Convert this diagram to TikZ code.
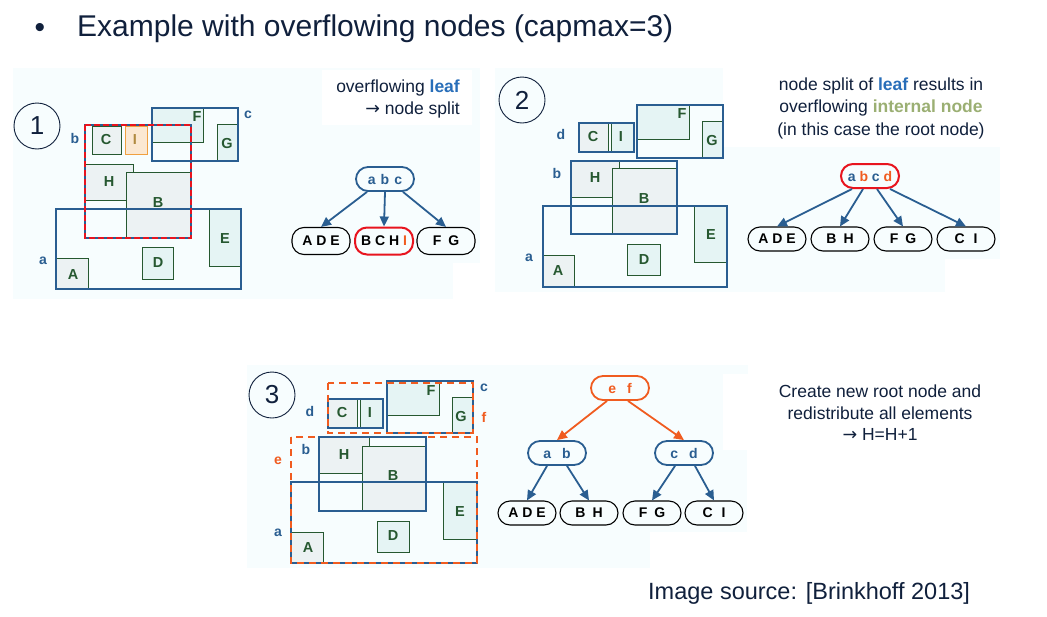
\documentclass[tikz,border=0pt]{standalone}
\usepackage{fontspec}
\setmainfont{Liberation Sans}
\newfontfamily\arrowfont{DejaVu Sans}
\usetikzlibrary{arrows.meta}

\definecolor{rtblue}{RGB}{42,94,145}
\definecolor{rtgreen}{RGB}{38,88,48}
\definecolor{rtfill}{RGB}{229,244,244}
\definecolor{rtfillt}{RGB}{236,242,243}
\definecolor{rtorange}{RGB}{240,92,32}
\definecolor{rtred}{RGB}{232,20,30}
\definecolor{rtbg}{RGB}{247,253,254}
\definecolor{rtink}{RGB}{16,32,60}
\definecolor{rtleaf}{RGB}{40,110,185}
\definecolor{rtolive}{RGB}{155,175,115}
\definecolor{rtifill}{RGB}{251,232,210}
\definecolor{rtiline}{RGB}{240,160,64}
\definecolor{rtitext}{RGB}{176,138,64}

\newcommand{\thenarrow}{{\arrowfont\char"2192}}

\tikzset{
  mbr/.style={draw=rtblue, line width=2.3pt},
  obj/.style={draw=rtgreen, line width=0.9pt, fill=rtfill},
  objt/.style={draw=rtgreen, line width=0.9pt, fill=rtfillt},
  redsplit/.style={draw=rtred, line width=2.3pt, dash pattern=on 6pt off 3pt},
  orgroup/.style={draw=rtorange, line width=2.3pt, dash pattern=on 7pt off 5pt},
  objlab/.style={text=rtgreen, font=\bfseries\fontsize{14.5}{14}\selectfont, inner sep=0pt},
  mbrlab/.style={text=rtblue, font=\bfseries\fontsize{14}{14}\selectfont, inner sep=0pt},
  orlab/.style={text=rtorange, font=\bfseries\fontsize{14}{14}\selectfont, inner sep=0pt},
  stepno/.style={circle, draw=rtink, line width=0.9pt, minimum size=46pt, inner sep=0pt,
    text=rtink, font=\fontsize{26}{26}\selectfont},
  tnode/.style={draw, rounded corners=12pt, minimum width=58pt, minimum height=24pt,
    inner sep=0pt, font=\bfseries\fontsize{14}{14}\selectfont},
  inner/.style={tnode, draw=rtblue, text=rtblue, line width=1.8pt},
  leafnode/.style={tnode, draw=black, text=black, line width=1.1pt},
  tarrow/.style={draw=rtblue, line width=1.8pt, -{Triangle[length=10pt,width=9pt]}},
  oarrow/.style={tarrow, draw=rtorange},
  note/.style={text=rtink, font=\fontsize{17.5}{22}\selectfont, inner sep=0pt},
}

\begin{document}
\begin{tikzpicture}[x=1pt, y=-1pt]
\useasboundingbox (0,0) rectangle (1047,616);
\fill[white] (0,0) rectangle (1047,616);

% ---------- panel backgrounds ----------
\fill[rtbg] (13,68) rectangle (480,263);
\fill[rtbg] (13,263) rectangle (453,299);
\fill[white] (322,70) rectangle (472,125);
\fill[rtbg] (495,68) rectangle (723,147);
\fill[rtbg] (495,147) rectangle (1000,259);
\fill[rtbg] (495,259) rectangle (945,292);
\fill[rtbg] (247,365) rectangle (723,450);
\fill[rtbg] (723,365) rectangle (748,374);
\fill[rtbg] (247,450) rectangle (747,532);
\fill[rtbg] (247,532) rectangle (650,568);

% ---------- title and source ----------
\node[text=rtink, font=\fontsize{30}{30}\selectfont, inner sep=0pt] (bullet) at (40,30) {•};
\node[text=rtink, font=\fontsize{30}{30}\selectfont, anchor=west, inner sep=0pt] (title) at (77,29)
  {Example with overflowing nodes (capmax=3)};
\node[text=rtink, font=\fontsize{23.5}{24}\selectfont, anchor=west, inner sep=0pt] (source) at (648,593)
  {Image source: [Brinkhoff 2013]};

% ================= step 1 =================
\node[stepno] (s1) at (37,126) {1};
% data rectangles
\draw[objt] (92,126) rectangle (121,154);
\draw[objt] (85,164) rectangle (133,200);
\draw[objt] (126,172) rectangle (191,238);
\draw[objt] (56,258) rectangle (88,289);
\draw[obj] (152,108) rectangle (203,142);
\draw[obj] (217,124) rectangle (238,161);
\draw[obj] (209,209) rectangle (241,266);
\draw[obj] (142,247) rectangle (173,279);
\draw[draw=rtiline, line width=0.9pt, fill=rtifill] (125,126) rectangle (147,154);
% bounding rectangles
\draw[mbr] (152,108) rectangle (238,161);
\draw[mbr] (56,209) rectangle (241,289);
\draw[mbr] (85,125) rectangle (191,238);
\draw[redsplit] (85,125) rectangle (191,238);
% labels
\node[objlab] (p1C) at (106,140) {C};
\node[objlab, text=rtitext] (p1I) at (135,140) {I};
\node[objlab] (p1F) at (197,117) {F};
\node[objlab] (p1G) at (227,144) {G};
\node[objlab] (p1H) at (109,182) {H};
\node[objlab] (p1B) at (158,203) {B};
\node[objlab] (p1E) at (225,239) {E};
\node[objlab] (p1D) at (158,263) {D};
\node[objlab] (p1A) at (73,275) {A};
\node[mbrlab] (p1b) at (75,138) {b};
\node[mbrlab] (p1c) at (248,115) {c};
\node[mbrlab] (p1a) at (43,261) {a};
% tree
\node[note, anchor=east, align=right] (t1) at (460,99)
  {overflowing \textcolor{rtleaf}{\bfseries leaf}\\\thenarrow{} node split};
\node[inner] (r1) at (385,179) {a\hspace{5pt}b\hspace{5pt}c};
\node[leafnode, minimum height=27pt] (l1a) at (321,241) {A D E};
\node[leafnode, minimum height=27pt, draw=rtred, line width=2pt] (l1b) at (384,241)
  {B C H \textcolor{rtorange}{I}};
\node[leafnode, minimum height=27pt] (l1c) at (446,241) {F\hspace{7pt}G};
\draw[tarrow] ([xshift=-18pt]r1.south) -- (l1a.north);
\draw[tarrow] (r1.south) -- (l1b.north);
\draw[tarrow] ([xshift=18pt]r1.south) -- (l1c.north);

% ================= step 2 =================
\node[stepno] (s2) at (522,100) {2};
\draw[objt] (579,123) rectangle (608,152);
\draw[objt] (571,161) rectangle (619,197);
\draw[objt] (612,168) rectangle (676,234);
\draw[objt] (543,255) rectangle (574,287);
\draw[obj] (611,123) rectangle (634,152);
\draw[obj] (637,105) rectangle (689,139);
\draw[obj] (702,121) rectangle (723,158);
\draw[obj] (694,206) rectangle (727,262);
\draw[obj] (627,244) rectangle (660,275);
\draw[mbr] (579,123) rectangle (634,152);
\draw[mbr] (637,105) rectangle (723,158);
\draw[mbr] (571,161) rectangle (677,234);
\draw[mbr] (543,206) rectangle (727,287);
\node[objlab] (p2C) at (593,137) {C};
\node[objlab] (p2I) at (621,137) {I};
\node[objlab] (p2F) at (682,114) {F};
\node[objlab] (p2G) at (712,141) {G};
\node[objlab] (p2H) at (595,178) {H};
\node[objlab] (p2B) at (644,199) {B};
\node[objlab] (p2E) at (711,235) {E};
\node[objlab] (p2D) at (644,260) {D};
\node[objlab] (p2A) at (558,271) {A};
\node[mbrlab] (p2d) at (561,134) {d};
\node[mbrlab] (p2b) at (557,173) {b};
\node[mbrlab] (p2a) at (529,258) {a};
% tree
\node[note, align=center, font=\fontsize{17.5}{22.5}\selectfont] (t2) at (881,108)
  {node split of \textcolor{rtleaf}{\bfseries leaf} results in\\
   overflowing \textcolor{rtolive}{\bfseries internal node}\\
   (in this case the root node)};
\node[inner, draw=rtred, line width=2pt] (r2) at (870,176)
  {a \textcolor{rtorange}{b} c \textcolor{rtorange}{d}};
\node[leafnode] (l2a) at (777,239) {A D E};
\node[leafnode] (l2b) at (840,239) {B\hspace{7pt}H};
\node[leafnode] (l2c) at (903,239) {F\hspace{7pt}G};
\node[leafnode] (l2d) at (966,239) {C\hspace{9pt}I};
\draw[tarrow] ([xshift=-18pt]r2.south) -- (l2a.north);
\draw[tarrow] ([xshift=-7pt]r2.south) -- (l2b.north);
\draw[tarrow] ([xshift=7pt]r2.south) -- (l2c.north);
\draw[tarrow] ([xshift=20pt]r2.south) -- (l2d.north);

% ================= step 3 =================
\node[stepno] (s3) at (272,395) {3};
\draw[objt] (328,399) rectangle (357,428);
\draw[objt] (319,437) rectangle (369,473);
\draw[objt] (362,446) rectangle (426,511);
\draw[objt] (291,532) rectangle (323,563);
\draw[obj] (360,399) rectangle (383,428);
\draw[obj] (387,381) rectangle (439,415);
\draw[obj] (452,397) rectangle (473,433);
\draw[obj] (443,482) rectangle (477,539);
\draw[obj] (377,521) rectangle (409,552);
\draw[mbr] (291,482) rectangle (477,563);
\draw[mbr] (387,381) rectangle (473,433);
\draw[mbr] (328,399) rectangle (383,428);
\draw[orgroup] (291,437) rectangle (477,563);
\draw[orgroup] (328,383) rectangle (473,433);
\draw[mbr] (319,437) rectangle (426,511);
\node[objlab] (p3C) at (342,413) {C};
\node[objlab] (p3I) at (370,413) {I};
\node[objlab] (p3F) at (431,391) {F};
\node[objlab] (p3G) at (461,417) {G};
\node[objlab] (p3H) at (344,455) {H};
\node[objlab] (p3B) at (393,476) {B};
\node[objlab] (p3E) at (460,512) {E};
\node[objlab] (p3D) at (393,536) {D};
\node[objlab] (p3A) at (308,548) {A};
\node[mbrlab] (p3d) at (310,411) {d};
\node[mbrlab] (p3c) at (484,388) {c};
\node[orlab] (p3f) at (484,417) {f};
\node[mbrlab] (p3b) at (306,449) {b};
\node[orlab] (p3e) at (278,461) {e};
\node[mbrlab] (p3a) at (278,533) {a};
% tree
\node[note, align=center, font=\fontsize{17.5}{21.5}\selectfont] (t3) at (880,413)
  {Create new root node and\\redistribute all elements\\\thenarrow{} H=H+1};
\node[inner, draw=rtorange, text=rtorange] (r3) at (620,388) {e\hspace{11pt}f};
\node[inner] (m3a) at (557,453) {a\hspace{11pt}b};
\node[inner] (m3b) at (684,453) {c\hspace{11pt}d};
\node[leafnode] (l3a) at (527,513) {A D E};
\node[leafnode] (l3b) at (589,513) {B\hspace{7pt}H};
\node[leafnode] (l3c) at (652,513) {F\hspace{7pt}G};
\node[leafnode] (l3d) at (714,513) {C\hspace{9pt}I};
\draw[oarrow] ([xshift=-13pt]r3.south) -- (m3a.north);
\draw[oarrow] ([xshift=8pt]r3.south) -- (m3b.north);
\draw[tarrow] ([xshift=-10pt]m3a.south) -- (l3a.north);
\draw[tarrow] ([xshift=10pt]m3a.south) -- (l3b.north);
\draw[tarrow] ([xshift=-9pt]m3b.south) -- (l3c.north);
\draw[tarrow] ([xshift=11pt]m3b.south) -- (l3d.north);
\end{tikzpicture}
\end{document}
